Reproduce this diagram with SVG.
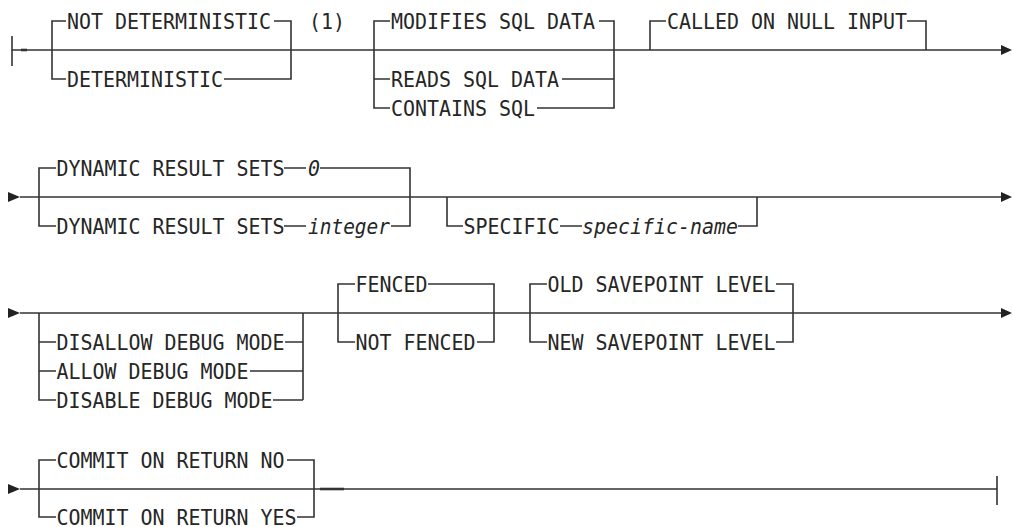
<svg xmlns="http://www.w3.org/2000/svg" width="1013" height="527" viewBox="0 0 1013 527">
  <style>
    .t { font-family: "DejaVu Sans Mono", "Liberation Mono", monospace; font-size: 21px; fill: #262626; }
    .v { font-style: italic; }
    .ln { fill: none; stroke: #333; stroke-width: 1.6; }
    .tick { fill: none; stroke: #333; stroke-width: 2.6; }
    .ah { fill: #222; }
  </style>
  <rect width="1013" height="527" fill="#fff"/>

  <!-- rails, branch brackets and arrowheads -->
  <g id="connectors">
    <!-- line 1 -->
    <path class="ln" d="M12 36 V66 M12 50 H1001"/>
    <path class="tick" d="M21 50 H27"/>
    <polygon class="ah" points="1001,45 1012,50 1001,55"/>
    <path class="ln" d="M66 21 H52 V79 H66 M274 21 H291 V79 H224"/>
    <path class="ln" d="M390 21 H374 V108 H390 M374 79 H390 M599 21 H614 V108 H537 M562 79 H614"/>
    <path class="ln" d="M666 21 H650 V50 M907 21 H926 V50"/>

    <!-- line 2 -->
    <polygon class="ah" points="8,192 20,197 8,202"/>
    <path class="ln" d="M20 197 H1001"/>
    <polygon class="ah" points="1001,192 1012,197 1001,202"/>
    <path class="ln" d="M56 168 H39 V226 H56 M284 168 H306 M320 168 H410 V226 H391 M284 226 H306"/>
    <path class="ln" d="M447 197 V226 H463 M560 226 H582 M738 226 H757 V197"/>

    <!-- line 3 -->
    <polygon class="ah" points="8,308 20,313 8,318"/>
    <path class="ln" d="M20 313 H1001"/>
    <polygon class="ah" points="1001,308 1012,313 1001,318"/>
    <path class="ln" d="M39 313 V400 H56 M39 342 H56 M39 371 H56 M285 342 H303 M250 371 H303 M273 400 H303 M303 313 V400"/>
    <path class="ln" d="M355 284 H338 V342 H355 M428 284 H494 V342 H477"/>
    <path class="ln" d="M547 284 H530 V342 H547 M776 284 H793 V342 H776"/>

    <!-- line 4 -->
    <polygon class="ah" points="8,484 20,489 8,494"/>
    <path class="ln" d="M20 489 H997 M997 476 V505"/>
    <path class="ln" d="M56 460 H39 V517 H56 M287 460 H314 V517 H297"/>
    <path class="tick" d="M320 489 H344"/>
  </g>

  <g id="deterministic">
    <text class="t" x="67" y="28.5" textLength="204" lengthAdjust="spacingAndGlyphs">NOT DETERMINISTIC</text>
    <text class="t" x="67" y="86.5" textLength="156" lengthAdjust="spacingAndGlyphs">DETERMINISTIC</text>
  </g>
  <g id="note-1">
    <text class="t" x="309" y="28.5" textLength="36" lengthAdjust="spacingAndGlyphs">(1)</text>
  </g>
  <g id="sql-data-access">
    <text class="t" x="391" y="28.5" textLength="204" lengthAdjust="spacingAndGlyphs">MODIFIES SQL DATA</text>
    <text class="t" x="391" y="86.5" textLength="168" lengthAdjust="spacingAndGlyphs">READS SQL DATA</text>
    <text class="t" x="391" y="115.5" textLength="144" lengthAdjust="spacingAndGlyphs">CONTAINS SQL</text>
  </g>
  <g id="null-input">
    <text class="t" x="667" y="28.5" textLength="240" lengthAdjust="spacingAndGlyphs">CALLED ON NULL INPUT</text>
  </g>

  <g id="result-sets">
    <text class="t" x="56.5" y="175.5" textLength="228" lengthAdjust="spacingAndGlyphs">DYNAMIC RESULT SETS</text>
    <text class="t v" x="308" y="175.5" textLength="12" lengthAdjust="spacingAndGlyphs">0</text>
    <text class="t" x="56.5" y="233.5" textLength="228" lengthAdjust="spacingAndGlyphs">DYNAMIC RESULT SETS</text>
    <text class="t v" x="308" y="233.5" textLength="82" lengthAdjust="spacingAndGlyphs">integer</text>
  </g>
  <g id="specific">
    <text class="t" x="463.5" y="233.5" textLength="96" lengthAdjust="spacingAndGlyphs">SPECIFIC</text>
    <text class="t v" x="582" y="233.5" textLength="156" lengthAdjust="spacingAndGlyphs">specific-name</text>
  </g>

  <g id="debug-mode">
    <text class="t" x="56.5" y="349.5" textLength="228" lengthAdjust="spacingAndGlyphs">DISALLOW DEBUG MODE</text>
    <text class="t" x="56.5" y="378.5" textLength="192" lengthAdjust="spacingAndGlyphs">ALLOW DEBUG MODE</text>
    <text class="t" x="56.5" y="407.5" textLength="216" lengthAdjust="spacingAndGlyphs">DISABLE DEBUG MODE</text>
  </g>
  <g id="fenced">
    <text class="t" x="355.5" y="291.5" textLength="72" lengthAdjust="spacingAndGlyphs">FENCED</text>
    <text class="t" x="355.5" y="349.5" textLength="120" lengthAdjust="spacingAndGlyphs">NOT FENCED</text>
  </g>
  <g id="savepoint-level">
    <text class="t" x="547.5" y="291.5" textLength="228" lengthAdjust="spacingAndGlyphs">OLD SAVEPOINT LEVEL</text>
    <text class="t" x="547.5" y="349.5" textLength="228" lengthAdjust="spacingAndGlyphs">NEW SAVEPOINT LEVEL</text>
  </g>

  <g id="commit-on-return">
    <text class="t" x="56.5" y="467.5" textLength="228" lengthAdjust="spacingAndGlyphs">COMMIT ON RETURN NO</text>
    <text class="t" x="56.5" y="524.5" textLength="240" lengthAdjust="spacingAndGlyphs">COMMIT ON RETURN YES</text>
  </g>
</svg>
